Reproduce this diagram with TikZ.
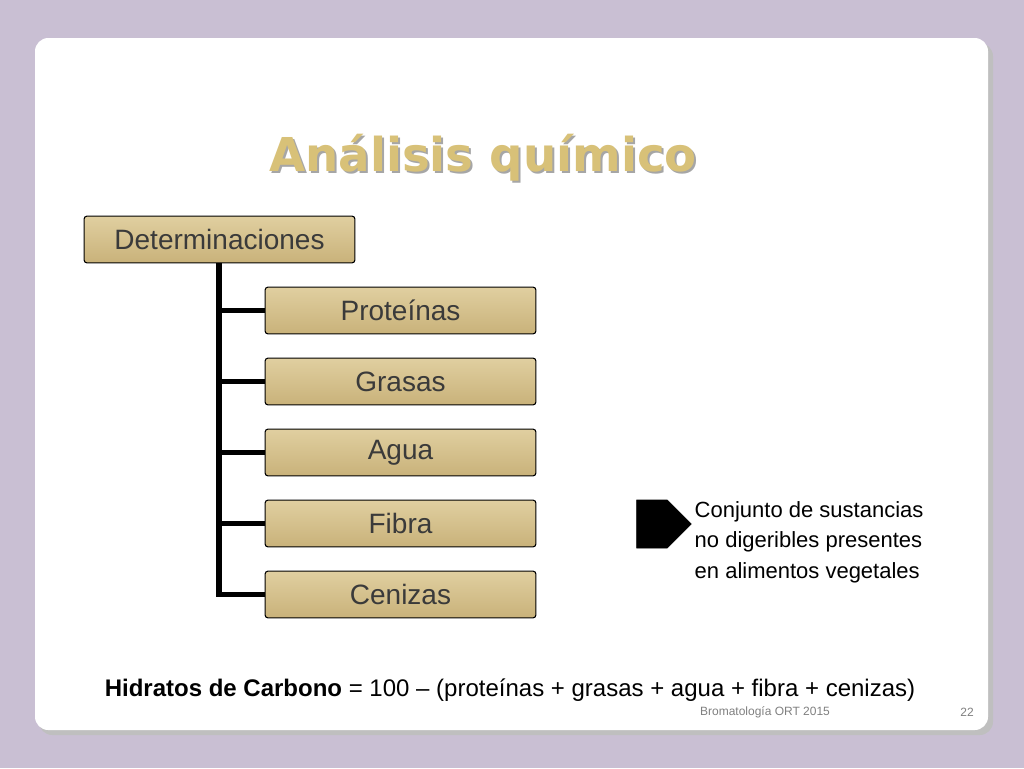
\documentclass[tikz,border=0pt]{standalone}
\usepackage{fontspec}
\setmainfont{Liberation Sans}
\newfontfamily\titlefont{DejaVu Sans}
\usetikzlibrary{shapes.arrows,shadows}
\definecolor{bg}{HTML}{C9BFD3}
\definecolor{gold}{HTML}{D8C178}
\definecolor{boxtop}{HTML}{E0CFA0}
\definecolor{boxbot}{HTML}{C9B27A}
\definecolor{txt}{HTML}{3A3A3A}
\tikzset{
  itembox/.style={draw=black, line width=0.8pt, rounded corners=2pt, top color=boxtop, bottom color=boxbot,
    minimum width=203pt, minimum height=35pt, font=\fontsize{21}{24}\selectfont, text=txt, inner sep=0pt},
  tree/.style={line width=4pt, black}
}
\begin{document}
\begin{tikzpicture}[x=0.75pt,y=-0.75pt]
\fill[bg] (0,0) rectangle (1024,768);
\useasboundingbox (0,0) rectangle (1024,768);
\fill[black!25, rounded corners=10pt] (39,43) rectangle (993,735);
\fill[white, rounded corners=10pt] (35,38) rectangle (988,730);
\node (title) at (485,160) {\titlefont\bfseries\fontsize{35}{40}\selectfont\textcolor{black!35}{Análisis químico}};
\node (title2) at (483,158) {\titlefont\bfseries\fontsize{35}{40}\selectfont\textcolor{gold}{Análisis químico}};
\node[itembox] (det) at (219.5,239.5) {Determinaciones};
\node[itembox] (p) at (400.5,310.5) {Proteínas};
\node[itembox] (g) at (400.5,381.5) {Grasas};
\node[itembox] (a) at (400.5,452.5) {Agua};
\node[itembox] (f) at (400.5,523.5) {Fibra};
\node[itembox] (c) at (400.5,594.5) {Cenizas};
\coordinate (top) at (219,263);
\coordinate (bot) at (219,594.5);
\draw[tree] (top) -- (bot) -- (c.west);
\foreach \n in {p,g,a,f}{\draw[tree] (top |- \n.west) -- (\n.west);}
\node[single arrow, fill=black, draw=black, minimum height=41pt, minimum width=36pt, single arrow head extend=0pt, inner sep=0pt, single arrow tip angle=90] (arr) at (652,524) {};
\node[anchor=west, align=left, font=\fontsize{16.5}{23}\selectfont] (desc) at (690,542) {Conjunto de sustancias\\no digeribles presentes\\en alimentos vegetales};
\node (form) at (510,690) {\fontsize{18}{22}\selectfont\textbf{Hidratos de Carbono} = 100 – (proteínas + grasas + agua + fibra + cenizas)};
\node[text=black!50, font=\fontsize{9}{10}\selectfont] (foot) at (765,712) {Bromatología ORT 2015};
\node[text=black!50, font=\fontsize{9}{10}\selectfont] (num) at (967,712) {22};
\end{tikzpicture}
\end{document}
